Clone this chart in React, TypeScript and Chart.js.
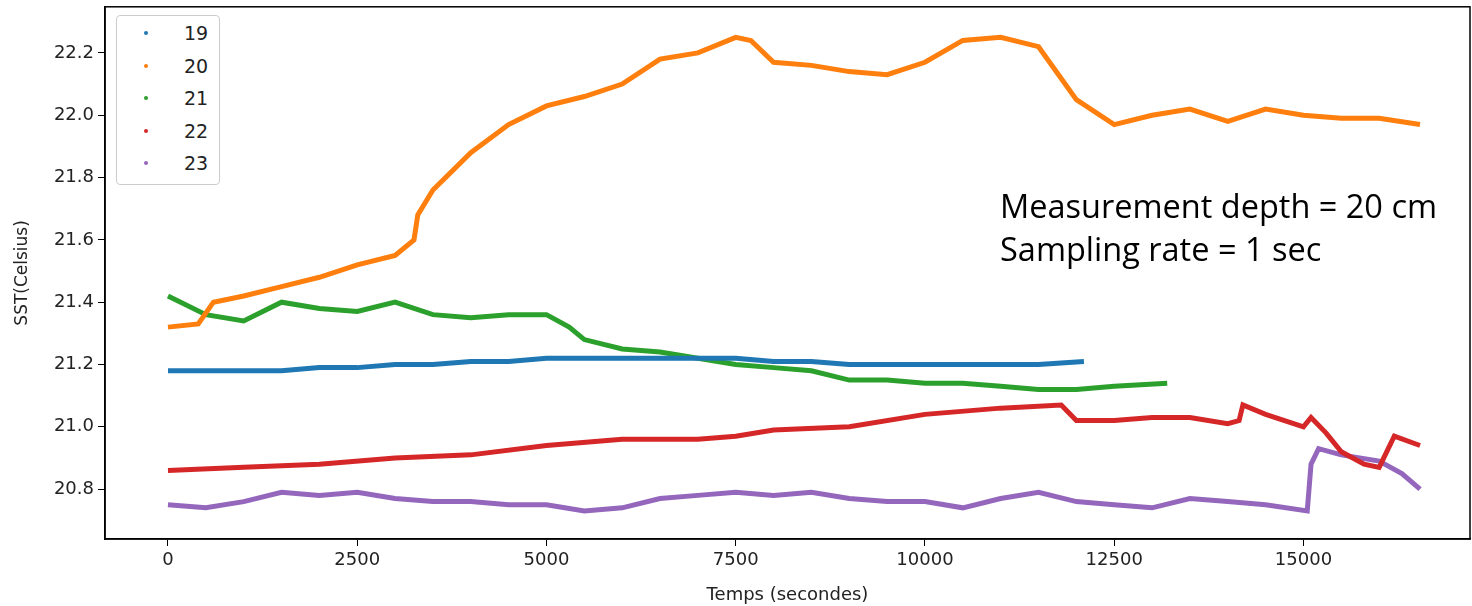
import React, { useEffect, useRef } from "react";
import { Chart, registerables } from "chart.js";

Chart.register(...registerables);

// sample times (s) and SST values
const t19 = [0, 500, 1000, 1500, 2000, 2500, 3000, 3500, 4000, 4500, 5000, 5500, 6000, 6500, 7000, 7500, 8000, 8500, 9000, 9500, 10000, 10500, 11000, 11500, 12100];
const v19 = [21.18, 21.18, 21.18, 21.18, 21.19, 21.19, 21.2, 21.2, 21.21, 21.21, 21.22, 21.22, 21.22, 21.22, 21.22, 21.22, 21.21, 21.21, 21.2, 21.2, 21.2, 21.2, 21.2, 21.2, 21.21];

const t20 = [0, 400, 600, 1000, 1500, 2000, 2500, 3000, 3250, 3300, 3500, 4000, 4500, 5000, 5500, 6000, 6500, 7000, 7500, 7700, 8000, 8500, 9000, 9500, 10000, 10500, 11000, 11500, 12000, 12500, 13000, 13500, 14000, 14500, 15000, 15500, 16000, 16540];
const v20 = [21.32, 21.33, 21.4, 21.42, 21.45, 21.48, 21.52, 21.55, 21.6, 21.68, 21.76, 21.88, 21.97, 22.03, 22.06, 22.1, 22.18, 22.2, 22.25, 22.24, 22.17, 22.16, 22.14, 22.13, 22.17, 22.24, 22.25, 22.22, 22.05, 21.97, 22.0, 22.02, 21.98, 22.02, 22.0, 21.99, 21.99, 21.97];

const t21 = [0, 500, 1000, 1500, 2000, 2500, 3000, 3500, 4000, 4500, 5000, 5300, 5500, 6000, 6500, 7000, 7500, 8000, 8500, 9000, 9500, 10000, 10500, 11000, 11500, 12000, 12500, 13200];
const v21 = [21.42, 21.36, 21.34, 21.4, 21.38, 21.37, 21.4, 21.36, 21.35, 21.36, 21.36, 21.32, 21.28, 21.25, 21.24, 21.22, 21.2, 21.19, 21.18, 21.15, 21.15, 21.14, 21.14, 21.13, 21.12, 21.12, 21.13, 21.14];

const t22 = [0, 1000, 2000, 3000, 4000, 5000, 6000, 7000, 7500, 8000, 9000, 10000, 11000, 11800, 12000, 12500, 13000, 13500, 14000, 14150, 14200, 14500, 15000, 15100, 15300, 15500, 15800, 16000, 16200, 16540];
const v22 = [20.86, 20.87, 20.88, 20.9, 20.91, 20.94, 20.96, 20.96, 20.97, 20.99, 21.0, 21.04, 21.06, 21.07, 21.02, 21.02, 21.03, 21.03, 21.01, 21.02, 21.07, 21.04, 21.0, 21.03, 20.98, 20.92, 20.88, 20.87, 20.97, 20.94];

const t23 = [0, 500, 1000, 1500, 2000, 2500, 3000, 3500, 4000, 4500, 5000, 5500, 6000, 6500, 7000, 7500, 8000, 8500, 9000, 9500, 10000, 10500, 11000, 11500, 12000, 12500, 13000, 13500, 14000, 14500, 15050, 15100, 15200, 15500, 16000, 16300, 16540];
const v23 = [20.75, 20.74, 20.76, 20.79, 20.78, 20.79, 20.77, 20.76, 20.76, 20.75, 20.75, 20.73, 20.74, 20.77, 20.78, 20.79, 20.78, 20.79, 20.77, 20.76, 20.76, 20.74, 20.77, 20.79, 20.76, 20.75, 20.74, 20.77, 20.76, 20.75, 20.73, 20.88, 20.93, 20.91, 20.89, 20.85, 20.8];

const xTicks = [0, 2500, 5000, 7500, 10000, 12500, 15000];
const yTicks = [20.8, 21.0, 21.2, 21.4, 21.6, 21.8, 22.0, 22.2];

const series = [
  { label: "19", t: t19, v: v19, color: "#1f77b4" },
  { label: "20", t: t20, v: v20, color: "#ff7f0e" },
  { label: "21", t: t21, v: v21, color: "#2ca02c" },
  { label: "22", t: t22, v: v22, color: "#d62728" },
  { label: "23", t: t23, v: v23, color: "#9467bd" },
];

const App: React.FC = () => {
  const chartRef = useRef<HTMLCanvasElement>(null);
  const chartInstance = useRef<Chart | null>(null);

  useEffect(() => {
    if (!chartRef.current) return;
    const tickFont = { family: "DejaVu Sans", size: 18 };
    chartInstance.current = new Chart(chartRef.current, {
      type: "scatter",
      data: {
        datasets: series.map((s) => ({
          label: s.label,
          data: s.t.map((t, i) => ({ x: t, y: s.v[i] })),
          showLine: true,
          borderColor: s.color,
          backgroundColor: s.color,
          borderWidth: 5,
          pointRadius: 0,
          tension: 0,
        })),
      },
      options: {
        animation: false,
        responsive: false,
        layout: { padding: { top: 0, right: 2, left: 0, bottom: 0 } },
        plugins: { legend: { display: false }, tooltip: { enabled: false } },
        scales: {
          x: {
            type: "linear",
            min: -832,
            max: 17200,
            afterBuildTicks: (axis: any) => {
              axis.ticks = xTicks.map((value) => ({ value }));
            },
            afterFit: (axis: any) => {
              axis.height = 67;
            },
            grid: { drawOnChartArea: false, drawTicks: true, tickLength: 7, color: "#000" },
            border: { display: true, color: "#000", width: 1.5 },
            ticks: { color: "#222", font: tickFont, padding: 4, maxRotation: 0, callback: (v: any) => String(v) },
            title: { display: true, text: "Temps (secondes)", color: "#222", font: tickFont, padding: { top: 2, bottom: 0 } },
          },
          y: {
            min: 20.64,
            max: 22.348,
            afterBuildTicks: (axis: any) => {
              axis.ticks = yTicks.map((value) => ({ value }));
            },
            afterFit: (axis: any) => {
              axis.width = 105;
            },
            grid: { drawOnChartArea: false, drawTicks: true, tickLength: 7, color: "#000" },
            border: { display: true, color: "#000", width: 1.5 },
            ticks: { color: "#222", font: tickFont, padding: 4, callback: (v: any) => Number(v).toFixed(1) },
            title: { display: true, text: "SST(Celsius)", color: "#222", font: { family: "DejaVu Sans", size: 17 }, padding: { top: 12, bottom: 4 } },
          },
        },
      },
      plugins: [
        {
          id: "frame",
          afterDraw: (chart: any) => {
            const { ctx, chartArea: a } = chart;
            ctx.save();
            ctx.strokeStyle = "#000";
            ctx.lineWidth = 1.5;
            ctx.strokeRect(a.left, a.top, a.right - a.left, a.bottom - a.top);
            ctx.restore();
          },
        },
      ],
    });
    return () => {
      chartInstance.current?.destroy();
    };
  }, []);

  return (
    <div style={{ position: "absolute", left: 0, top: 0, width: 1472, height: 606, background: "#fff", overflow: "hidden" }}>
      <canvas ref={chartRef} width={1472} height={614} style={{ position: "absolute", left: 0, top: -8 }}></canvas>
      <div
        style={{
          position: "absolute", left: 116, top: 15, width: 102, height: 168,
          border: "1px solid #ccc", borderRadius: 4, background: "#fff",
          fontFamily: "DejaVu Sans", fontSize: 19, color: "#222",
        }}
      >
        {series.map((s, i) => (
          <div key={s.label} style={{ position: "absolute", top: 2 + i * 32.5, left: 0, height: 30, lineHeight: "30px", width: "100%" }}>
            <span style={{ position: "absolute", left: 27, top: 13, width: 4, height: 4, borderRadius: 2, background: s.color }}></span>
            <span style={{ position: "absolute", left: 67 }}>{s.label}</span>
          </div>
        ))}
      </div>
      <div style={{ position: "absolute", left: 1000, top: 184, fontFamily: "Open Sans", fontSize: 32.5, color: "#000", lineHeight: "43px" }}>
        Measurement depth = 20 cm<br />Sampling rate = 1 sec
      </div>
    </div>
  );
};

export default App;
